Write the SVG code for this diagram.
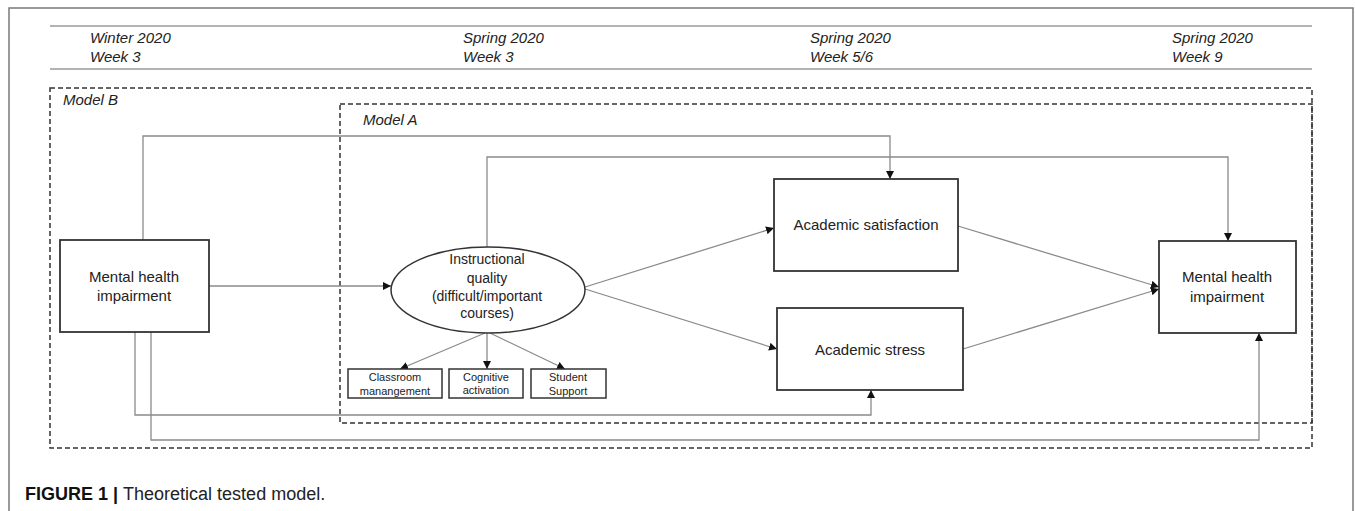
<svg xmlns="http://www.w3.org/2000/svg" width="1355" height="511" viewBox="0 0 1355 511">
<style>
  .frame{fill:none;stroke:#7a7a7a;stroke-width:1.5}
  .tl{stroke:#9a9a9a;stroke-width:1.5;fill:none}
  .hdr{font-family:"Liberation Sans",Arial,sans-serif;font-style:italic;font-size:15px;fill:#222}
  .dash{fill:none;stroke:#333;stroke-width:1.5;stroke-dasharray:5 3}
  .box{fill:#fff;stroke:#333;stroke-width:1.8}
  .sbox{fill:#fff;stroke:#333;stroke-width:1.5}
  .lbl{font-family:"Liberation Sans",Arial,sans-serif;font-size:15px;fill:#222;text-anchor:middle}
  .ell{font-family:"Liberation Sans",Arial,sans-serif;font-size:14px;fill:#222;text-anchor:middle}
  .sm{font-family:"Liberation Sans",Arial,sans-serif;font-size:11px;fill:#222;text-anchor:middle}
  .con{fill:none;stroke:#8a8a8a;stroke-width:1.3;marker-end:url(#arr)}
  .cap{font-family:"Liberation Sans",Arial,sans-serif;font-size:18px;fill:#222}
</style>
<defs>
  <marker id="arr" markerUnits="userSpaceOnUse" markerWidth="9" markerHeight="8" refX="8" refY="4" orient="auto">
    <path d="M0,0 L8,4 L0,8 z" fill="#111"/>
  </marker>
</defs>
<rect width="1355" height="511" fill="#fff"/>
<path class="frame" d="M9,515 V8 H1353 V515"/>

<g id="timeline">
  <line class="tl" x1="50" y1="26" x2="1312" y2="26"/>
  <line class="tl" x1="50" y1="69" x2="1312" y2="69"/>
  <text class="hdr" x="90" y="43">Winter 2020</text>
  <text class="hdr" x="90" y="62">Week 3</text>
  <text class="hdr" x="463" y="43">Spring 2020</text>
  <text class="hdr" x="463" y="62">Week 3</text>
  <text class="hdr" x="810" y="43">Spring 2020</text>
  <text class="hdr" x="810" y="62">Week 5/6</text>
  <text class="hdr" x="1172" y="43">Spring 2020</text>
  <text class="hdr" x="1172" y="62">Week 9</text>
</g>

<g id="modelB">
  <rect class="dash" x="50" y="88" width="1262" height="360"/>
  <text class="hdr" x="63" y="105">Model B</text>
</g>
<g id="modelA">
  <rect class="dash" x="340" y="104" width="972" height="319"/>
  <text class="hdr" x="363" y="125">Model A</text>
</g>

<g id="connectors">
  <path class="con" d="M143,240 V136 H890 V179"/>
  <path class="con" d="M487,248 V157 H1228 V241"/>
  <path class="con" d="M209,286 H391"/>
  <path class="con" d="M585,287 L774,228"/>
  <path class="con" d="M585,289 L777,349"/>
  <path class="con" d="M958,226 L1159,287"/>
  <path class="con" d="M963,349 L1159,289"/>
  <path class="con" d="M135,332 V415 H871 V390"/>
  <path class="con" d="M151,332 V440 H1259 V333"/>
  <path class="con" d="M485,333 L400,369"/>
  <path class="con" d="M487,333 V369"/>
  <path class="con" d="M490,333 L565,369"/>
</g>

<g id="mhi1">
  <rect class="box" x="60" y="240" width="149" height="92"/>
  <text class="lbl" x="134" y="282">Mental health</text>
  <text class="lbl" x="134" y="301">impairment</text>
</g>

<g id="iq">
  <ellipse cx="488" cy="290" rx="97" ry="43" fill="#fff" stroke="#333" stroke-width="1.5"/>
  <text class="ell" x="487" y="264">Instructional</text>
  <text class="ell" x="487" y="283">quality</text>
  <text class="ell" x="487" y="301">(difficult/important</text>
  <text class="ell" x="487" y="318">courses)</text>
</g>

<g id="classroom">
  <rect class="sbox" x="348" y="369" width="94" height="29"/>
  <text class="sm" x="395" y="381">Classroom</text>
  <text class="sm" x="395" y="395">manangement</text>
</g>
<g id="cognitive">
  <rect class="sbox" x="449" y="369" width="74" height="29"/>
  <text class="sm" x="486" y="381">Cognitive</text>
  <text class="sm" x="486" y="394">activation</text>
</g>
<g id="student">
  <rect class="sbox" x="531" y="369" width="75" height="29"/>
  <text class="sm" x="568" y="381">Student</text>
  <text class="sm" x="568" y="395">Support</text>
</g>

<g id="satisfaction">
  <rect class="box" x="774" y="179" width="184" height="92"/>
  <text class="lbl" x="866" y="230">Academic satisfaction</text>
</g>
<g id="stress">
  <rect class="box" x="777" y="308" width="186" height="82"/>
  <text class="lbl" x="870" y="355">Academic stress</text>
</g>

<g id="mhi2">
  <rect class="box" x="1159" y="241" width="137" height="92" fill="#f9f9f9"/>
  <text class="lbl" x="1227" y="282">Mental health</text>
  <text class="lbl" x="1227" y="302">impairment</text>
</g>

<g id="caption">
  <text class="cap" x="25" y="500"><tspan font-weight="bold" fill="#111">FIGURE 1 | </tspan>Theoretical tested model.</text>
</g>
</svg>
